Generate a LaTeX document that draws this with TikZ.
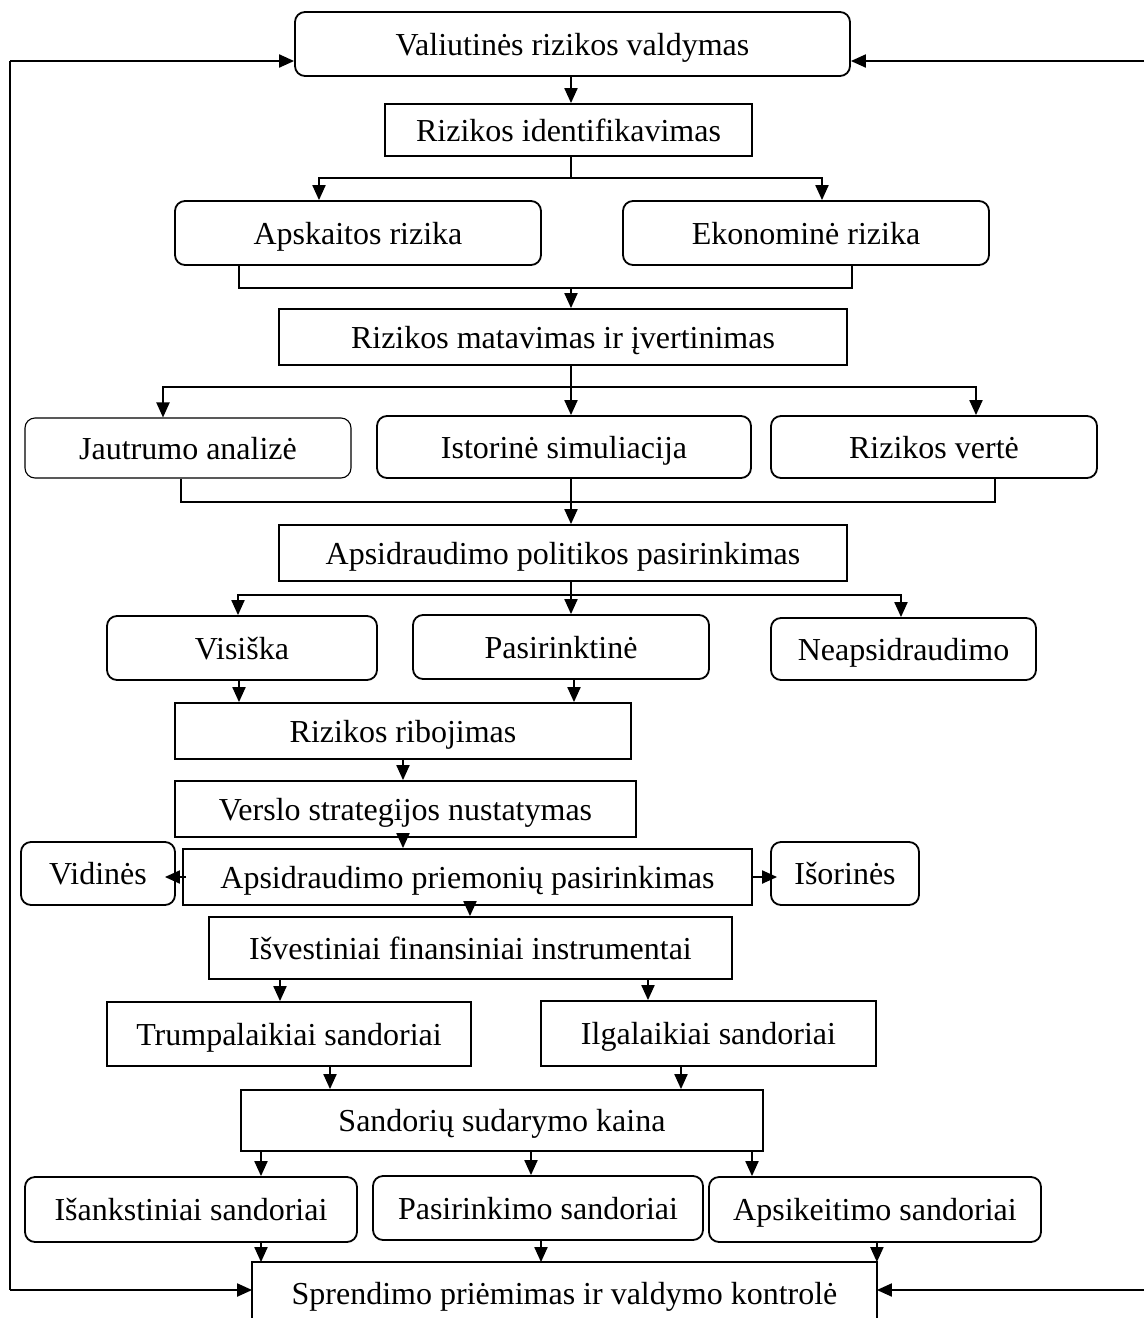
\documentclass[tikz,border=0pt]{standalone}
\usepackage{fontspec}
\setmainfont{Liberation Serif}
\usetikzlibrary{arrows.meta}
\begin{document}
\begin{tikzpicture}[x=1pt,y=-1pt,
  box/.style={draw,line width=1.8pt,inner sep=0pt,align=center,text height=25pt,text depth=3pt,font=\fontsize{32}{36}\selectfont},
  rbox/.style={box,rounded corners=10pt},
  ln/.style={line width=2pt},
  arr/.style={ln,-{Triangle[length=15pt,width=13pt]}}]
\useasboundingbox (0,0) rectangle (1144,1318);
% nodes
\node[rbox,minimum width=555pt,minimum height=64pt] (top) at (572.5,44) {Valiutinės rizikos valdymas};
\node[box,minimum width=367pt,minimum height=52pt] (ident) at (568.5,130) {Rizikos identifikavimas};
\node[rbox,minimum width=366pt,minimum height=64pt] (apsk) at (358,233) {Apskaitos rizika};
\node[rbox,minimum width=366pt,minimum height=64pt] (ekon) at (806,233) {Ekonominė rizika};
\node[box,minimum width=568pt,minimum height=56pt] (mat) at (563,337) {Rizikos matavimas ir įvertinimas};
\node[rbox,line width=1.1pt,minimum width=326pt,minimum height=60pt] (jaut) at (188,448) {Jautrumo analizė};
\node[rbox,minimum width=374pt,minimum height=62pt] (ist) at (564,447) {Istorinė simuliacija};
\node[rbox,minimum width=326pt,minimum height=62pt] (rv) at (934,447) {Rizikos vertė};
\node[box,minimum width=568pt,minimum height=56pt] (pol) at (563,553) {Apsidraudimo politikos pasirinkimas};
\node[rbox,minimum width=270pt,minimum height=64pt] (vis) at (242,648) {Visiška};
\node[rbox,minimum width=296pt,minimum height=64pt] (pas) at (561,647) {Pasirinktinė};
\node[rbox,minimum width=265pt,minimum height=62pt] (nea) at (903.5,649) {Neapsidraudimo};
\node[box,minimum width=456pt,minimum height=56pt] (rib) at (403,731) {Rizikos ribojimas};
\node[box,minimum width=461pt,minimum height=56pt] (ver) at (405.5,809) {Verslo strategijos nustatymas};
\node[box,minimum width=569pt,minimum height=56pt] (prie) at (467.5,877) {Apsidraudimo priemonių pasirinkimas};
\node[rbox,minimum width=154pt,minimum height=63pt] (vid) at (98,873.5) {Vidinės};
\node[rbox,minimum width=148pt,minimum height=63pt] (isor) at (845,873.5) {Išorinės};
\node[box,minimum width=523pt,minimum height=62pt] (isv) at (470.5,948) {Išvestiniai finansiniai instrumentai};
\node[box,minimum width=364pt,minimum height=64pt] (trum) at (289,1034) {Trumpalaikiai sandoriai};
\node[box,minimum width=335pt,minimum height=65pt] (ilg) at (708.5,1033.5) {Ilgalaikiai sandoriai};
\node[box,minimum width=522pt,minimum height=61pt] (kaina) at (502,1120.5) {Sandorių sudarymo kaina};
\node[rbox,minimum width=332pt,minimum height=65pt] (isank) at (191,1209.5) {Išankstiniai sandoriai};
\node[rbox,minimum width=330pt,minimum height=64pt] (pasir) at (538,1208) {Pasirinkimo sandoriai};
\node[rbox,minimum width=332pt,minimum height=65pt] (apsik) at (875,1209.5) {Apsikeitimo sandoriai};
\node[box,draw=none,minimum width=623pt,minimum height=60pt] (spr) at (564.5,1293) {Sprendimo priėmimas ir valdymo kontrolė};
\draw[line width=1.8pt] (spr.south west) -- (spr.north west) -- (spr.north east) -- (spr.south east);
% junction coordinates
\coordinate (j1) at (571,178);
\coordinate (j2) at (571,287);
\coordinate (j3) at (571,387);
\coordinate (j4) at (571,595);
\coordinate (L1) at (10,61);
\coordinate (L2) at (10,1290);
\coordinate (R1) at (1144,61);
\coordinate (R2) at (1144,1290);
% connectors
\draw[arr] (top.south -| j1) -- (ident.north -| j1);
\draw[ln] (ident.south -| j1) -- (j1);
\draw[arr] (j1) -| ([xshift=-39pt]apsk.north);
\draw[arr] (j1) -| ([xshift=16pt]ekon.north);
\draw[ln] ([xshift=-119pt]apsk.south) -- ++(0,22) -| ([xshift=46pt]ekon.south);
\draw[arr] (j2) -- (mat.north -| j2);
\draw[arr] (mat.south -| j3) -- (ist.north -| j3);
\draw[arr] (j3) -| ([xshift=-25pt]jaut.north);
\draw[arr] (j3) -| ([xshift=42pt]rv.north);
\draw[ln] ([xshift=-7pt]jaut.south) -- ++(0,23) -| ([xshift=61pt]rv.south);
\draw[arr] (ist.south -| j3) -- (pol.north -| j3);
\draw[arr] (pol.south -| j4) -- (pas.north -| j4);
\draw[arr] (j4) -| ([xshift=-4pt]vis.north);
\draw[arr] (j4) -| ([xshift=-2.5pt]nea.north);
\draw[arr] ([xshift=-3pt]vis.south) -- ([xshift=-3pt]vis.south |- rib.north);
\draw[arr] ([xshift=13pt]pas.south) -- ([xshift=13pt]pas.south |- rib.north);
\draw[arr] (rib.south) -- (rib.south |- ver.north);
\draw[arr] (ver.south -| rib.south) -- (prie.north -| rib.south);
\draw[arr] ([xshift=4pt]prie.west) -- ([xshift=-11pt]vid.east |- prie.west);
\draw[arr] (prie.east) -- ([xshift=7pt]isor.west |- prie.east);
\draw[arr] ([xshift=2.5pt]prie.south) -- ([xshift=2.5pt]prie.south |- isv.north);
\draw[arr] ([xshift=-190.5pt]isv.south) -- ([xshift=-190.5pt]isv.south |- trum.north);
\draw[arr] ([xshift=177.5pt]isv.south) -- ([xshift=177.5pt]isv.south |- ilg.north);
\draw[arr] ([xshift=41pt]trum.south) -- ([xshift=41pt]trum.south |- kaina.north);
\draw[arr] ([xshift=-27.5pt]ilg.south) -- ([xshift=-27.5pt]ilg.south |- kaina.north);
\draw[arr] ([xshift=-241pt]kaina.south) -- ([xshift=-241pt]kaina.south |- isank.north);
\draw[arr] ([xshift=29pt]kaina.south) -- ([xshift=29pt]kaina.south |- pasir.north);
\draw[arr] ([xshift=250pt]kaina.south) -- ([xshift=250pt]kaina.south |- apsik.north);
\draw[arr] ([xshift=70pt]isank.south) -- ([xshift=70pt]isank.south |- spr.north);
\draw[arr] ([xshift=3pt]pasir.south) -- ([xshift=3pt]pasir.south |- spr.north);
\draw[arr] (apsik.south -| spr.north east) -- (spr.north east);
% feedback
\draw[ln] (L1) -- (L2);
\draw[arr] (L1) -- (top.west |- L1);
\draw[arr] (L2) -- (spr.west |- L2);
\draw[arr] (R1) -- (top.east |- R1);
\draw[arr] (R2) -- (spr.east |- R2);
\end{tikzpicture}
\end{document}
